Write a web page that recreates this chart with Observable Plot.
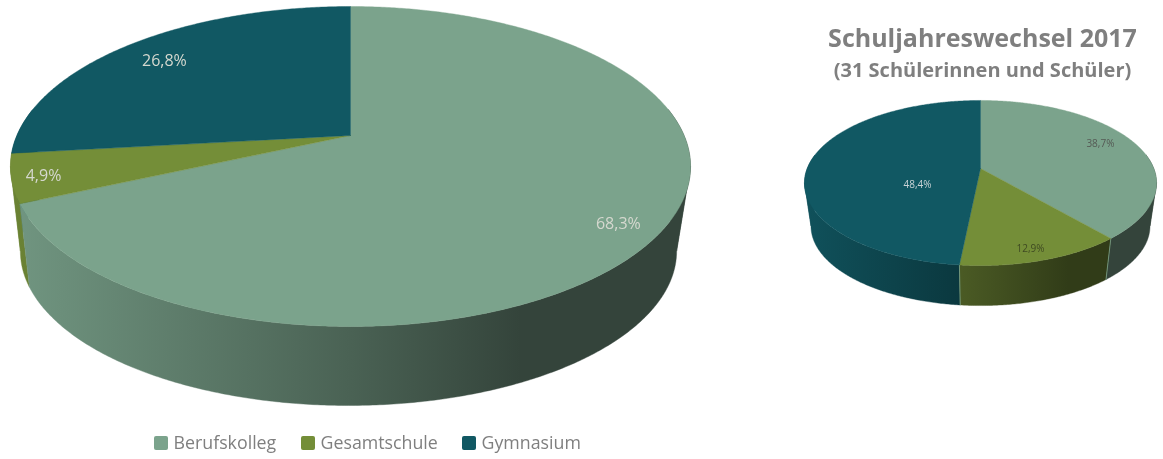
<!DOCTYPE html>
<html lang="de">
<head>
<meta charset="utf-8">
<script src="https://cdn.jsdelivr.net/npm/d3@7"></script>
<script src="https://cdn.jsdelivr.net/npm/@observablehq/plot@0.6"></script>
<style>html,body{margin:0;padding:0;background:#fff}svg{display:block;filter:blur(0.35px)}</style>
</head>
<body>
<script>
// Data
const categories = ["Berufskolleg", "Gesamtschule", "Gymnasium"];
const values2016 = [68.3, 4.9, 26.8];
const values2017 = [38.7, 12.9, 48.4];
const titleText = "Schuljahreswechsel 2017";
const subtitleText = "(31 Schülerinnen und Schüler)";

// Style
const colors = ["#7ba38c", "#748e38", "#115863"];
const gray = "#7f7f7f";

// Layout: perspective disc geometry and label spots in disc coordinates
const bigPie = {
  key: "big", cx: 350, cy: 135, rx: 333.6, ry: 154, k: 0.1937,
  bx: 348, by: 220.7, bs: 0.965, seams: false,
  labels: [[0.723, 0.514], [-0.876, 0.248], [-0.616, -0.538]],
  labelColors: ["#d5d8cf", "#d5d8cf", "#d5d8cf"], fontSize: 16
};
const smallPie = {
  key: "small", cx: 980, cy: 168, rx: 173.3, ry: 80, k: 0.1757,
  bx: 980, by: 211.6, bs: 0.963, seams: true,
  labels: [[0.732, -0.33], [0.2455, 0.85], [-0.351, 0.2]],
  labelColors: ["#555a55", "#3f4a22", "#c9d3d6"], fontSize: 10
};
const deg = Math.PI / 180;
const frontFrom = 80 * deg, frontTo = 280 * deg;

const project = (p, u, v, s = 1, x0 = p.cx, y0 = p.cy) => {
  const w = 1 - p.k * v;
  return [x0 + s * p.rx * u / w, y0 + s * p.ry * v / w];
};
const rim = (p, a, bottom) => bottom
  ? project(p, Math.sin(a), -Math.cos(a), p.bs, p.bx, p.by)
  : project(p, Math.sin(a), -Math.cos(a));

// Light falls from the left: side walls darken toward the right
const shadeStops = [[0, 0.92], [0.5, 0.6], [0.75, 0.42], [1, 0.42]];
const darker = (c, m) => {
  const q = d3.rgb(c);
  return d3.rgb(q.r * m, q.g * m, q.b * m).formatHex();
};

const walls = [], topRows = [], labelRows = [], seamRows = [], gradients = [];
let polyId = 0;
function addPie(p, values) {
  const total = d3.sum(values);
  const x0 = p.cx - p.rx / Math.sqrt(1 - p.k * p.k);
  const x1 = p.cx + p.rx / Math.sqrt(1 - p.k * p.k);
  // angles where the wall's outline leaves the rim
  const tangentR = Math.acos(-p.k), tangentL = 2 * Math.PI - tangentR;
  let start = 0;
  const pieWalls = [];
  values.forEach((val, i) => {
    const end = start + val / total * 2 * Math.PI;
    const from = Math.max(start, frontFrom), to = Math.min(end, frontTo);
    if (to > from) {
      const gid = `wall-${p.key}-${i}`;
      gradients.push({gid, x0, x1, color: colors[i]});
      const cuts = [from, ...[tangentR, tangentL].filter(a => a > from && a < to), to];
      for (let c = 0; c + 1 < cuts.length; ++c) {
        const a0 = cuts[c], a1 = cuts[c + 1];
        const id = polyId++;
        const rows = [];
        const n = Math.ceil((a1 - a0) / (0.5 * deg));
        for (let j = 0; j <= n; ++j) {
          const [x, y] = rim(p, a0 + (a1 - a0) * j / n);
          rows.push({id, x, y, fill: `url(#${gid})`});
        }
        for (let j = n; j >= 0; --j) {
          const [x, y] = rim(p, a0 + (a1 - a0) * j / n, true);
          rows.push({id, x, y, fill: `url(#${gid})`});
        }
        rows.push({...rows[0]});
        pieWalls.push({rows, near: -Math.cos((a0 + a1) / 2)});
      }
    }
    // top face
    const id = polyId++;
    topRows.push({id, x: p.cx, y: p.cy, fill: colors[i]});
    const m = Math.ceil((end - start) / (0.5 * deg));
    for (let j = 0; j <= m; ++j) {
      const [x, y] = rim(p, start + (end - start) * j / m);
      topRows.push({id, x, y, fill: colors[i]});
    }
    topRows.push({id, x: p.cx, y: p.cy, fill: colors[i]});
    // seam on the wall
    if (p.seams && end > frontFrom && end < frontTo) {
      const sid = polyId++;
      for (const b of [false, true]) {
        const [x, y] = rim(p, end, b);
        seamRows.push({id: sid, x, y});
      }
    }
    // label
    const [x, y] = project(p, p.labels[i][0], p.labels[i][1]);
    labelRows.push({
      x, y, text: val.toFixed(1).replace(".", ",") + "%",
      fill: p.labelColors[i], size: p.fontSize
    });
    start = end;
  });
  pieWalls.sort((a, b) => a.near - b.near);
  for (const w of pieWalls) walls.push(...w.rows);
}
addPie(smallPie, values2017);
addPie(bigPie, values2016);

const legendX = {swatch: [154, 301, 462], text: [173, 320, 481]};
const legendRows = categories.map((name, i) => ({
  name, fill: colors[i], x1: legendX.swatch[i], x2: legendX.swatch[i] + 14, tx: legendX.text[i]
}));

const gradientDefs = () => {
  const defs = d3.create("svg:defs");
  for (const g of gradients) {
    const lg = defs.append("linearGradient")
      .attr("id", g.gid)
      .attr("gradientUnits", "userSpaceOnUse")
      .attr("x1", g.x0).attr("x2", g.x1).attr("y1", 0).attr("y2", 0);
    for (const [t, m] of shadeStops) {
      lg.append("stop").attr("offset", t).attr("stop-color", darker(g.color, m));
    }
  }
  return defs.node();
};

const font = "'Open Sans', sans-serif";
const chart = Plot.plot({
  width: 1163, height: 459,
  margin: 0,
  style: {background: "#fff", fontFamily: font},
  x: {domain: [0, 1163], range: [0, 1163], axis: null},
  y: {domain: [0, 459], range: [0, 459], axis: null},
  color: {type: "identity"},
  marks: [
    gradientDefs,
    Plot.line(walls, {x: "x", y: "y", z: "id", fill: "fill", stroke: "fill", strokeWidth: 0.4}),
    Plot.line(seamRows, {x: "x", y: "y", z: "id", stroke: colors[0], strokeWidth: 0.8}),
    Plot.line(topRows, {x: "x", y: "y", z: "id", fill: "fill", stroke: "fill", strokeWidth: 0.4}),
    ...[bigPie, smallPie].map(p => Plot.text(labelRows.filter(d => d.size === p.fontSize), {
      x: "x", y: "y", text: "text", fill: "fill", fontSize: p.fontSize, fontFamily: font
    })),
    Plot.text([titleText], {x: () => 982, y: () => 38, text: d => d, fontSize: 25, fontWeight: 700, fill: gray, fontFamily: font}),
    Plot.text([subtitleText], {x: () => 982, y: () => 70, text: d => d, fontSize: 20, fontWeight: 700, fill: gray, fontFamily: font}),
    Plot.rect(legendRows, {x1: "x1", x2: "x2", y1: () => 436, y2: () => 450, fill: "fill", rx: 2}),
    Plot.text(legendRows, {x: "tx", y: () => 443, text: "name", textAnchor: "start", fontSize: 17.8, fill: gray, fontFamily: font})
  ]
});
document.body.appendChild(chart);
</script>
</body>
</html>
